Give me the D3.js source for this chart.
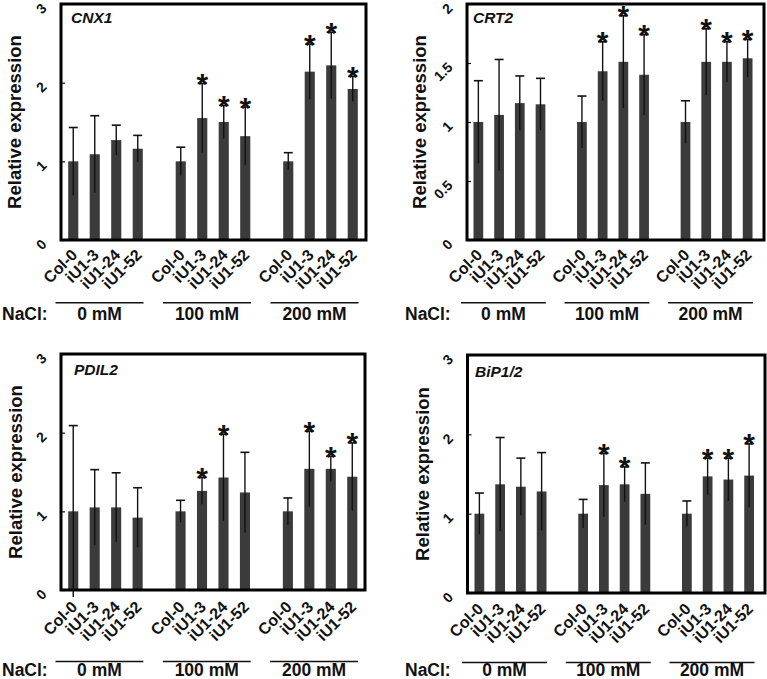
<!DOCTYPE html>
<html>
<head>
<meta charset="utf-8">
<script src="https://cdn.jsdelivr.net/npm/d3@7"></script>
<style>
  html, body { margin: 0; padding: 0; background: #fff; }
  svg { display: block; font-family: Arial, "Liberation Sans", sans-serif; }
</style>
</head>
<body>
<svg id="chart" width="767" height="679"></svg>
<script>
// ---------------- data ----------------
const categories = ["Col-0", "iU1-3", "iU1-24", "iU1-52"];
const treatments = ["0 mM", "100 mM", "200 mM"];
const genes = ["CNX1", "CRT2", "PDIL2", "BiP1/2"];

// values are ordered: 0 mM (Col-0, iU1-3, iU1-24, iU1-52), 100 mM (...), 200 mM (...)
const cnx1Mean = [1.00, 1.09, 1.27, 1.16, 1.00, 1.55, 1.50, 1.32, 1.00, 2.14, 2.22, 1.92];
const cnx1Err  = [0.43, 0.49, 0.19, 0.17, 0.18, 0.44, 0.21, 0.37, 0.11, 0.35, 0.42, 0.16];
const cnx1Sig  = [0, 0, 0, 0, 0, 1, 1, 1, 0, 1, 1, 1];

const crt2Mean = [1.00, 1.06, 1.16, 1.15, 1.00, 1.43, 1.51, 1.40, 1.00, 1.51, 1.51, 1.54];
const crt2Err  = [0.35, 0.47, 0.23, 0.22, 0.22, 0.25, 0.39, 0.34, 0.18, 0.28, 0.17, 0.16];
const crt2Sig  = [0, 0, 0, 0, 0, 1, 1, 1, 0, 1, 1, 1];

const pdil2Mean = [1.00, 1.05, 1.05, 0.92, 1.00, 1.26, 1.43, 1.24, 1.00, 1.54, 1.54, 1.44];
const pdil2Err  = [1.09, 0.48, 0.44, 0.38, 0.14, 0.17, 0.55, 0.51, 0.17, 0.48, 0.16, 0.43];
const pdil2Sig  = [0, 0, 0, 0, 0, 1, 1, 0, 0, 1, 1, 1];

const bipMean = [1.00, 1.37, 1.34, 1.28, 1.00, 1.36, 1.37, 1.25, 1.00, 1.47, 1.43, 1.48];
const bipErr  = [0.26, 0.59, 0.36, 0.49, 0.18, 0.40, 0.22, 0.39, 0.16, 0.23, 0.27, 0.40];
const bipSig  = [0, 0, 0, 0, 0, 1, 1, 0, 0, 1, 1, 1];

const ticksA = [0, 1, 2, 3];
const ticksB = [0, 0.5, 1, 1.5, 2];
const tickLabelsA = ["0", "1", "2", "3"];
const tickLabelsB = ["0", "0.5", "1", "1.5", "2"];

const yTitle = "Relative expression";
const naclLabel = "NaCl:";

// ---------------- layout ----------------
const panels = [
  { gene: genes[0], mean: cnx1Mean, err: cnx1Err, sig: cnx1Sig, ticks: ticksA, tickLabels: tickLabelsA, yMax: 3,
    box: [61, 4, 366, 240], bars: [62.5, 363.5], titleX: 21, geneXY: [71, 23], lineY: 302.7, naclY: 320, naclX: 2, xlabOff: 16 },
  { gene: genes[1], mean: crt2Mean, err: crt2Err, sig: crt2Sig, ticks: ticksB, tickLabels: tickLabelsB, yMax: 2,
    box: [467, 4, 764, 240], bars: [468, 758], titleX: 426, geneXY: [473, 23], lineY: 302.7, naclY: 320, naclX: 405, xlabOff: 16 },
  { gene: genes[2], mean: pdil2Mean, err: pdil2Err, sig: pdil2Sig, ticks: ticksA, tickLabels: tickLabelsA, yMax: 3,
    box: [61, 354, 365, 590], bars: [62.5, 363], titleX: 22, geneXY: [74, 375], lineY: 661.5, naclY: 675.5, naclX: 2, xlabOff: 18 },
  { gene: genes[3], mean: bipMean, err: bipErr, sig: bipSig, ticks: ticksA, tickLabels: tickLabelsA, yMax: 3,
    box: [467.5, 355, 765, 593], bars: [469, 759.5], titleX: 429, geneXY: [475, 377], lineY: 662.5, naclY: 676, naclX: 405, xlabOff: 17 }
];

const svg = d3.select("#chart");
const barColor = "#3b3b3b";

panels.forEach(p => {
  const [x0, y0, x1, y1] = p.box;
  const g = svg.append("g");

  const y = d3.scaleLinear().domain([0, p.yMax]).range([y1, y0]);
  const xGroup = d3.scaleBand().domain(treatments).range(p.bars).paddingInner(0.2).paddingOuter(0);
  const xCat = d3.scaleBand().domain(categories).range([0, xGroup.bandwidth()])
    .paddingInner(0.53).paddingOuter(0.265);

  const rows = [];
  treatments.forEach((t, ti) => categories.forEach((c, ci) => {
    const i = ti * categories.length + ci;
    rows.push({ t, c, v: p.mean[i], e: p.err[i], s: p.sig[i] });
  }));
  const cx = d => xGroup(d.t) + xCat(d.c) + xCat.bandwidth() / 2;

  // bars
  g.selectAll("rect.bar").data(rows).join("rect")
    .attr("class", "bar")
    .attr("x", d => xGroup(d.t) + xCat(d.c))
    .attr("width", xCat.bandwidth())
    .attr("y", d => y(d.v))
    .attr("height", d => y(0) - y(d.v))
    .attr("fill", barColor);

  // error bars
  g.selectAll("line.err").data(rows).join("line")
    .attr("class", "err")
    .attr("x1", cx).attr("x2", cx)
    .attr("y1", d => y(d.v - d.e)).attr("y2", d => y(d.v + d.e))
    .attr("stroke", "#111").attr("stroke-width", 1.4);
  g.selectAll("line.cap").data(rows).join("line")
    .attr("class", "cap")
    .attr("x1", d => cx(d) - 4.5).attr("x2", d => cx(d) + 4.5)
    .attr("y1", d => y(d.v + d.e)).attr("y2", d => y(d.v + d.e))
    .attr("stroke", "#111").attr("stroke-width", 1.6);

  // significance stars
  g.selectAll("text.star").data(rows.filter(d => d.s)).join("text")
    .attr("class", "star")
    .attr("x", cx)
    .attr("y", d => y(d.v + d.e) + 10.5)
    .attr("text-anchor", "middle")
    .attr("font-size", 30).attr("font-weight", "bold")
    .attr("fill", "#111")
    .text("*");

  // y axis ticks (inward) and rotated labels
  const axis = d3.axisRight(y).tickValues(p.ticks).tickSize(4).tickFormat((d, i) => p.tickLabels[i]);
  const ax = g.append("g").attr("transform", `translate(${x0},0)`).call(axis);
  ax.select(".domain").remove();
  ax.selectAll(".tick line").attr("stroke", "#111").attr("stroke-width", 1.2);
  ax.selectAll(".tick text")
    .attr("x", 0).attr("dy", null)
    .attr("text-anchor", "end")
    .attr("font-size", 14).attr("font-weight", "bold")
    .attr("font-family", "Arial, 'Liberation Sans', sans-serif")
    .attr("fill", "#111")
    .attr("transform", "translate(-16,2) rotate(-45)")
    .attr("dominant-baseline", "middle");

  // frame
  g.append("rect")
    .attr("x", x0).attr("y", y0)
    .attr("width", x1 - x0).attr("height", y1 - y0)
    .attr("fill", "none").attr("stroke", "#000").attr("stroke-width", 3);

  // gene name
  g.append("text")
    .attr("x", p.geneXY[0]).attr("y", p.geneXY[1])
    .attr("font-size", 15.5).attr("font-weight", "bold").attr("font-style", "italic")
    .attr("fill", "#111")
    .text(p.gene);

  // y title
  g.append("text")
    .attr("transform", `translate(${p.titleX},${(y0 + y1) / 2}) rotate(-90)`)
    .attr("text-anchor", "middle")
    .attr("font-size", 18.5).attr("font-weight", "bold")
    .attr("fill", "#111")
    .text(yTitle);

  // x category labels
  g.selectAll("text.xlab").data(rows).join("text")
    .attr("class", "xlab")
    .attr("transform", d => `translate(${cx(d) + 5},${y1 + p.xlabOff}) rotate(-45)`)
    .attr("text-anchor", "end")
    .attr("font-size", 16).attr("font-weight", "bold")
    .attr("fill", "#111")
    .text(d => d.c);

  // group underline + treatment labels
  g.selectAll("line.grp").data(treatments).join("line")
    .attr("class", "grp")
    .attr("x1", t => xGroup(t) - 7).attr("x2", t => xGroup(t) + xGroup.bandwidth() - 5)
    .attr("y1", p.lineY).attr("y2", p.lineY)
    .attr("stroke", "#111").attr("stroke-width", 1.4);
  g.selectAll("text.grp").data(treatments).join("text")
    .attr("class", "grp")
    .attr("x", t => xGroup(t) + xGroup.bandwidth() / 2 - 6)
    .attr("y", p.naclY)
    .attr("text-anchor", "middle")
    .attr("font-size", 17.5).attr("font-weight", "bold")
    .attr("fill", "#111")
    .text(t => t);
  g.append("text")
    .attr("x", p.naclX).attr("y", p.naclY)
    .attr("font-size", 17.5).attr("font-weight", "bold")
    .attr("fill", "#111")
    .text(naclLabel);
});
</script>
</body>
</html>
